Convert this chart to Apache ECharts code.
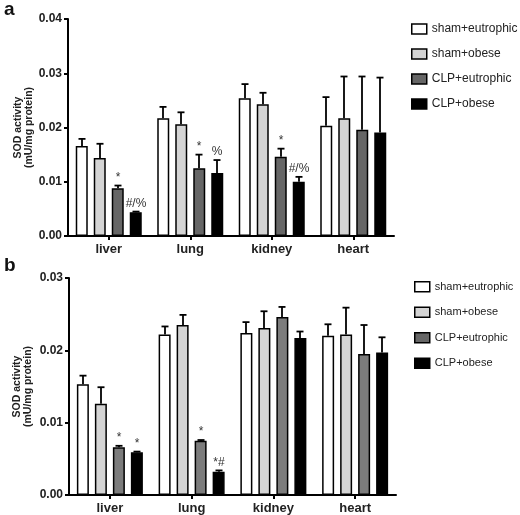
<!DOCTYPE html>
<html><head><meta charset="utf-8">
<script src="https://cdn.jsdelivr.net/npm/echarts@6/dist/echarts.min.js"></script>
<style>html,body{margin:0;padding:0;background:#fff}#c{width:520px;height:515px}</style>
</head><body><div id="c"></div>
<script>
const categories = ['liver', 'lung', 'kidney', 'heart'];
const groups = ['sham+eutrophic', 'sham+obese', 'CLP+eutrophic', 'CLP+obese'];
const yTicksA = [0, 0.01, 0.02, 0.03, 0.04];
const yTicksB = [0, 0.01, 0.02, 0.03];

// Panel a: means and upper error-bar ends
const aShamEutro = [0.0166, 0.0217, 0.0254, 0.0203];
const aShamObese = [0.0144, 0.0206, 0.0243, 0.0217];
const aClpEutro  = [0.0088, 0.0125, 0.0146, 0.0196];
const aClpObese  = [0.0044, 0.0116, 0.0100, 0.0191];
const aShamEutroErr = [0.0179, 0.0238, 0.0280, 0.0256];
const aShamObeseErr = [0.0170, 0.0228, 0.0264, 0.0294];
const aClpEutroErr  = [0.0093, 0.0150, 0.0161, 0.0294];
const aClpObeseErr  = [0.0045, 0.0140, 0.0109, 0.0292];
const aMarks = [['', '', '', ''], ['', '', '', ''], ['*', '*', '*', ''], ['#/%', '%', '#/%', '']];

// Panel b
const bShamEutro = [0.0153, 0.0222, 0.0224, 0.0220];
const bShamObese = [0.0126, 0.0235, 0.0231, 0.0222];
const bClpEutro  = [0.0066, 0.0075, 0.0246, 0.0195];
const bClpObese  = [0.0059, 0.0032, 0.0217, 0.0197];
const bShamEutroErr = [0.0165, 0.0233, 0.0239, 0.0236];
const bShamObeseErr = [0.0149, 0.0249, 0.0254, 0.0259];
const bClpEutroErr  = [0.0068, 0.0076, 0.0260, 0.0235];
const bClpObeseErr  = [0.0060, 0.0034, 0.0226, 0.0218];
const bMarks = [['', '', '', ''], ['', '', '', ''], ['*', '*', '', ''], ['*', '*#', '', '']];

const fills = ['#ffffff', '#d4d4d4', '#666666', '#000000'];
const fillsB = ['#ffffff', '#d4d4d4', '#7c7c7c', '#000000'];

const BAR_W = 12, STEP = 18;
const FONT = '"Liberation Sans", Arial, sans-serif';

function makePanel(idx, means, errs, marks, colors) {
  const series = [];
  means.forEach((m, g) => {
    series.push({
      type: 'bar', name: groups[g], xAxisIndex: idx, yAxisIndex: idx,
      data: m, barWidth: BAR_W, barGap: '50%',
      itemStyle: {color: colors[g], borderColor: '#000', borderWidth: 1.5},
      emphasis: {disabled: true}, z: 2
    });
  });
  const data = [];
  const labels = [];
  means.forEach((m, g) => {
    m.forEach((v, c) => { data.push([c, v, errs[g][c], g]); labels.push(marks[g][c]); });
  });
  series.push({
    type: 'custom', xAxisIndex: idx, yAxisIndex: idx, z: 1,
    encode: {x: 0, y: [1, 2]},
    data: data,
    renderItem: function (params, api) {
      const c = api.value(0), g = api.value(3);
      const base = api.coord([c, api.value(1)]);
      const tp = api.coord([c, api.value(2)]);
      const total = 4 * BAR_W + 3 * (STEP - BAR_W);
      const x = Math.round(base[0] - total / 2 + BAR_W / 2 + g * STEP);
      const children = [
        {type: 'line', shape: {x1: x, y1: base[1], x2: x, y2: tp[1]}, style: {stroke: '#000', lineWidth: 1.8}},
        {type: 'line', shape: {x1: x - 3.5, y1: tp[1], x2: x + 3.5, y2: tp[1]}, style: {stroke: '#000', lineWidth: 1.8}}
      ];
      const t = labels[params.dataIndex];
      if (t) {
        children.push({type: 'text', style: {text: t, x: x, y: tp[1] - 2, align: 'center', verticalAlign: 'bottom',
          font: '12px ' + FONT, fill: '#333'}});
      }
      return {type: 'group', children: children};
    }
  });
  return series;
}

const chart = echarts.init(document.getElementById('c'), null, {renderer: 'canvas'});
const axisFont = {fontFamily: FONT, fontWeight: 'bold', color: '#222'};

function xAx(gi) {
  return {type: 'category', gridIndex: gi, data: categories, boundaryGap: true,
    axisLine: {lineStyle: {color: '#000', width: 2}},
    axisTick: {show: true, alignWithLabel: true, length: 4, lineStyle: {color: '#000', width: 2}},
    axisLabel: Object.assign({fontSize: 13, margin: 7}, axisFont)};
}
function yAx(gi, ticks, gap) {
  return {type: 'value', gridIndex: gi, min: ticks[0], max: ticks[ticks.length - 1], interval: ticks[1] - ticks[0],
    name: 'SOD activity\n(mU/mg protein)', nameLocation: 'middle', nameGap: gap, nameMoveOverlap: false,
    nameTextStyle: {fontFamily: FONT, fontSize: 10.5, fontWeight: 'bold', color: '#222', lineHeight: 11},
    axisLine: {show: true, lineStyle: {color: '#000', width: 2}},
    axisTick: {show: true, length: 4, lineStyle: {color: '#000', width: 2}},
    splitLine: {show: false},
    axisLabel: Object.assign({fontSize: 12, margin: 6, formatter: v => v.toFixed(2)}, axisFont)};
}
function legend(top, left, fs, gap) {
  return {orient: 'vertical', left: left, top: top, icon: 'rect', itemWidth: 15, itemHeight: 10, itemGap: gap,
    data: groups, selectedMode: false,
    itemStyle: {borderColor: '#000', borderWidth: 1.5},
    textStyle: {fontFamily: FONT, fontSize: fs, color: '#222'}};
}

chart.setOption({
  animation: false,
  grid: [
    {left: 68, top: 19, width: 326, height: 217, outerBoundsMode: 'none'},
    {left: 69, top: 278, width: 327, height: 217, outerBoundsMode: 'none'}
  ],
  xAxis: [xAx(0), xAx(1)],
  yAxis: [yAx(0, yTicksA, 33), yAx(1, yTicksB, 35)],
  legend: [legend(18, 406, 12, 13), legend(276, 409, 11, 14)],
  graphic: [
    {type: 'text', left: 4, top: 0, style: {text: 'a', font: 'bold 19px ' + FONT, fill: '#111'}},
    {type: 'text', left: 4, top: 256, style: {text: 'b', font: 'bold 19px ' + FONT, fill: '#111'}}
  ],
  series: makePanel(0, [aShamEutro, aShamObese, aClpEutro, aClpObese],
                       [aShamEutroErr, aShamObeseErr, aClpEutroErr, aClpObeseErr], aMarks, fills)
    .concat(makePanel(1, [bShamEutro, bShamObese, bClpEutro, bClpObese],
                       [bShamEutroErr, bShamObeseErr, bClpEutroErr, bClpObeseErr], bMarks, fillsB))
});
</script></body></html>
